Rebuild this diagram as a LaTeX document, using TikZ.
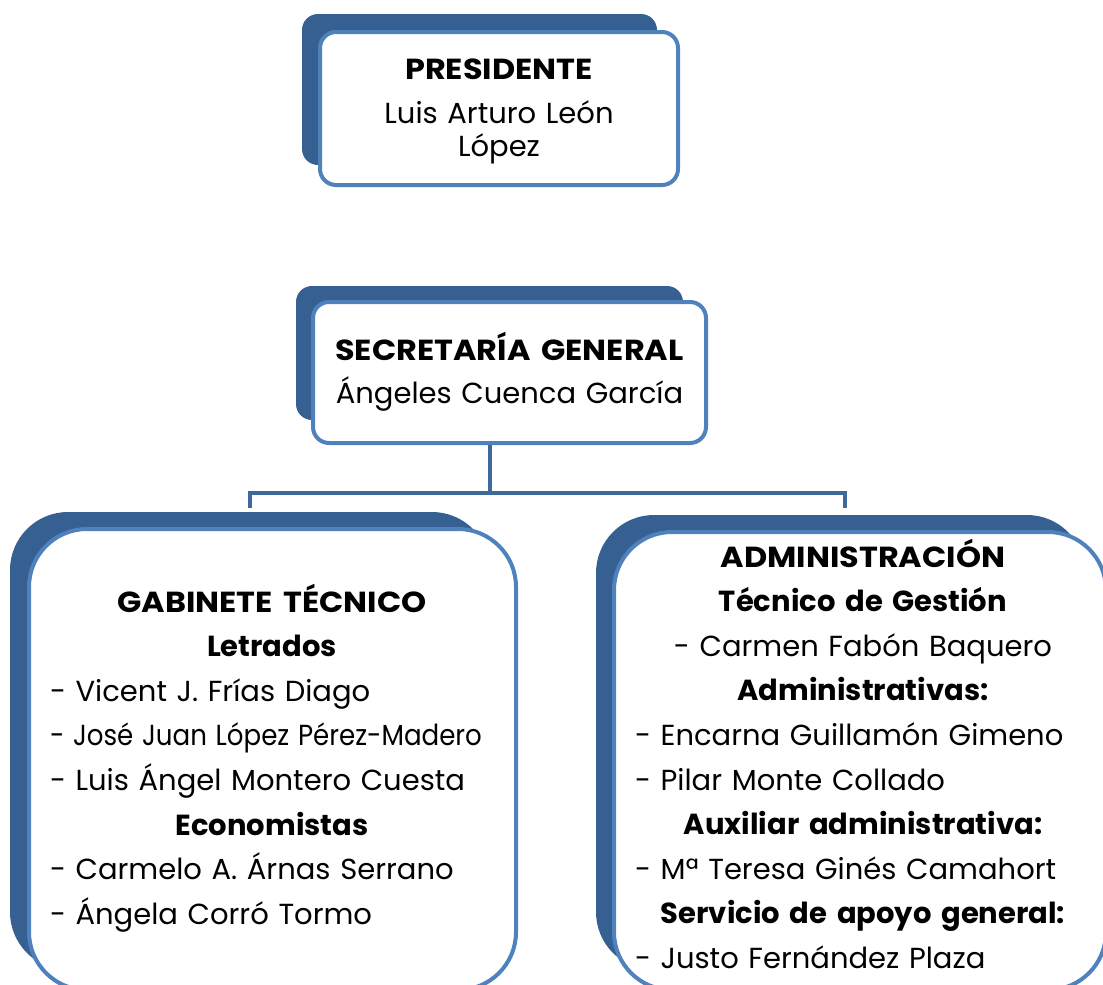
\documentclass[tikz,border=0pt]{standalone}
\usepackage{fontspec}
\setmainfont{Poppins}
\usetikzlibrary{positioning}
\definecolor{boxline}{HTML}{4F81BD}
\definecolor{boxshade}{HTML}{376092}
\definecolor{linkline}{HTML}{3D6A9A}
\newcommand{\headcaps}[1]{\scalebox{1.1}[1]{\textbf{#1}}}
\newcommand{\leftrow}[1]{\makebox[\linewidth][l]{#1}}

\begin{document}
\begin{tikzpicture}[x=1pt, y=-1pt,
    shadebox/.style={fill=boxshade, rounded corners=#1, inner sep=0pt},
    frontbox/.style={fill=white, draw=boxline, line width=4pt, rounded corners=#1, inner sep=0pt},
    link/.style={draw=linkline, line width=4pt},
    boxtext/.style={align=center, inner sep=0pt, anchor=base, font=\fontsize{29}{44.6}\selectfont}]
    \useasboundingbox (0,0) rectangle (1103,985);
    \clip (0,0) rectangle (1103,985);

    \node[shadebox=16, minimum width=355, minimum height=151](presshade) at (479.5,89.5){};
    \node[frontbox=16, minimum width=358, minimum height=153](pres) at (499,108.5){};
    \node[boxtext, text width=340, font=\fontsize{29}{33}\selectfont](prestext) at (499,79)
        {\headcaps{PRESIDENTE}\\[11pt]Luis Arturo León\\López};

    \node[shadebox=16, minimum width=387, minimum height=134](secshade) at (489.5,353){};
    \coordinate(hub) at (490,493);
    \coordinate(leftdrop) at (250,508);
    \coordinate(rightdrop) at (845,508);
    \node[frontbox=16, minimum width=393, minimum height=141](sec) at (509.5,372.5){};
    \draw[link] (hub |- sec.south) -- (hub);
    \draw[link] (leftdrop) |- (hub) -| (rightdrop);
    \node[boxtext, text width=380, font=\fontsize{29}{43}\selectfont](sectext) at (509.5,360)
        {\headcaps{SECRETARÍA GENERAL}\\Ángeles Cuenca García};

    \node[shadebox=58, minimum width=480, minimum height=458](gabshade) at (250,741){};
    \node[frontbox=58, minimum width=487, minimum height=461](gab) at (272.5,759.5){};
    \node[boxtext, text width=444](gabtext) at (272,612)
        {\headcaps{GABINETE TÉCNICO}\\
         \textbf{Letrados}\\
         \leftrow{- Vicent J. Frías Diago}\\
         \leftrow{\scalebox{0.9}[1]{- José Juan López Pérez-Madero}}\\
         \leftrow{- Luis Ángel Montero Cuesta}\\
         \textbf{Economistas}\\
         \leftrow{- Carmelo A. Árnas Serrano}\\
         \leftrow{- Ángela Corró Tormo}};

    \node[shadebox=58, minimum width=489, minimum height=455](admshade) at (840.5,742.5){};
    \node[frontbox=58, minimum width=492, minimum height=458](adm) at (860,761){};
    \node[boxtext, text width=456](admtext) at (863,567)
        {\headcaps{ADMINISTRACIÓN}\\
         \textbf{Técnico de Gestión}\\
         - Carmen Fabón Baquero\\
         \textbf{Administrativas:}\\
         \leftrow{- Encarna Guillamón Gimeno}\\
         \leftrow{- Pilar Monte Collado}\\
         \textbf{Auxiliar administrativa:}\\
         \leftrow{- Mª Teresa Ginés Camahort}\\
         \textbf{Servicio de apoyo general:}\\
         \leftrow{- Justo Fernández Plaza}};
\end{tikzpicture}
\end{document}
